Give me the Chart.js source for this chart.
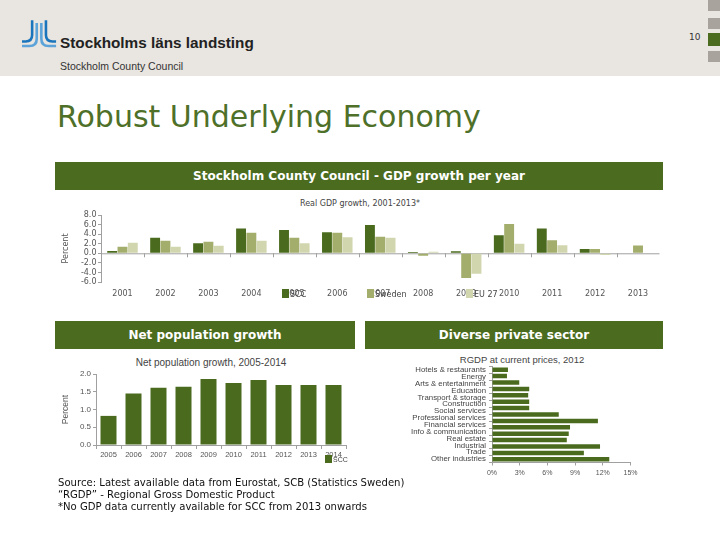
<!DOCTYPE html>
<html>
<head>
<meta charset="utf-8">
<script src="https://cdn.jsdelivr.net/npm/chart.js@4.4.1/dist/chart.umd.min.js"></script>
<style>
  body { margin: 0; width: 720px; height: 540px; position: relative; overflow: hidden; background: #fff; font-family: "DejaVu Sans", Verdana, sans-serif; }
  .abs { position: absolute; }
  #band { left: 0; top: 0; width: 720px; height: 76px; background: #e9e5e0; }
  .sq { left: 708px; width: 12px; background: #a9a39e; }
  .bar-head { background: #4b6c1f; color: #fff; font-weight: bold; font-size: 12px; text-align: center; height: 28px; line-height: 28px; }
  .lg { font-size: 8px; color: #444; white-space: nowrap; }
  .lg i { display: inline-block; width: 7px; height: 9px; vertical-align: -1px; margin-right: 1px; }
  .ctitle { font-size: 8px; color: #444; white-space: nowrap; text-align: center; }
</style>
</head>
<body>
<div id="band" class="abs"></div>
<svg class="abs" style="left:22px;top:20px" width="35" height="30" viewBox="0 0 38 32">
  <g fill="none" stroke-width="2.8">
    <path d="M11 0 V16 Q11 23 4 23 H0" stroke="#1b75bc"/>
    <path d="M16 3 V20 Q16 28 8 28 H0" stroke="#5ba3d9"/>
    <path d="M21 3 V20 Q21 28 29 28 H37" stroke="#5ba3d9"/>
    <path d="M26 0 V16 Q26 23 33 23 H37" stroke="#1b75bc"/>
  </g>
</svg>
<div class="abs" style="left:60px;top:34px;font-family:'Liberation Sans',sans-serif;font-weight:bold;font-size:15.3px;color:#222;">Stockholms läns landsting</div>
<div class="abs" style="left:60px;top:60px;font-family:'Liberation Sans',sans-serif;font-size:10.5px;color:#333;">Stockholm County Council</div>
<div class="abs sq" style="top:0;height:11px"></div>
<div class="abs sq" style="top:18px;height:11px"></div>
<div class="abs sq" style="top:33px;height:13px;background:#4b6c1f"></div>
<div class="abs sq" style="top:51px;height:11px"></div>
<div class="abs" style="left:689px;top:32px;font-size:9px;color:#333;">10</div>

<div class="abs" style="left:57px;top:99px;font-size:30px;color:#4e7028;white-space:nowrap;">Robust Underlying Economy</div>

<div class="abs bar-head" style="left:55px;top:162px;width:608px;">Stockholm County Council - GDP growth per year</div>
<div class="abs ctitle" style="left:55px;top:199px;width:610px;">Real GDP growth, 2001-2013*</div>
<canvas id="gdpChart" class="abs" style="left:55px;top:195px" width="610" height="110"></canvas>
<div class="abs lg" style="left:282px;top:289px"><i style="background:#4a6b1e"></i>SCC</div>
<div class="abs lg" style="left:367px;top:289px"><i style="background:#a3ad6c"></i>Sweden</div>
<div class="abs lg" style="left:466px;top:289px"><i style="background:#d2d6ae"></i>EU 27</div>

<div class="abs bar-head" style="left:55px;top:321px;width:300px;">Net population growth</div>
<div class="abs bar-head" style="left:365px;top:321px;width:298px;">Diverse private sector</div>

<div class="abs ctitle" style="left:111px;top:357px;width:200px;font-family:'Liberation Sans',sans-serif;font-size:10px;">Net population growth, 2005-2014</div>
<canvas id="popChart" class="abs" style="left:55px;top:355px" width="300" height="115"></canvas>
<div class="abs lg" style="left:325px;top:455px;font-family:'Liberation Sans',sans-serif;font-size:7px;"><i style="background:#4a6b1e;width:7px;height:8px"></i>SCC</div>

<div class="abs ctitle" style="left:422px;top:354px;width:200px;font-family:'Liberation Sans',sans-serif;font-size:9.5px;">RGDP at current prices, 2012</div>
<canvas id="sectorChart" class="abs" style="left:400px;top:352px" width="255" height="128"></canvas>

<div class="abs" style="left:58px;top:477px;font-size:10.1px;line-height:12px;color:#111;white-space:nowrap;">
Source: Latest available data from Eurostat, SCB (Statistics Sweden)<br>
“RGDP” - Regional Gross Domestic Product<br>
*No GDP data currently available for SCC from 2013 onwards
</div>

<script>
// GDP growth per year
const gdpYears = ["2001", "2002", "2003", "2004", "2005", "2006", "2007", "2008", "2009", "2010", "2011", "2012", "2013"];
const gdpScc = [0.5, 3.25, 2.1, 5.2, 4.85, 4.4, 5.9, 0.25, 0.4, 3.75, 5.2, 0.9, null];
const gdpSweden = [1.35, 2.6, 2.4, 4.3, 3.25, 4.3, 3.45, -0.5, -5.15, 6.1, 2.75, 0.9, 1.65];
const gdpEu = [2.2, 1.35, 1.55, 2.6, 2.1, 3.35, 3.25, 0.3, -4.3, 2.0, 1.7, -0.35, 0.1];
const gdpTicks = [-6, -4, -2, 0, 2, 4, 6, 8];

// Net population growth
const popYears = ["2005", "2006", "2007", "2008", "2009", "2010", "2011", "2012", "2013", "2014"];
const popScc = [0.82, 1.45, 1.61, 1.64, 1.86, 1.75, 1.83, 1.69, 1.69, 1.69];

// RGDP at current prices, 2012 (15 bars, 14 labels as printed)
const sectorLabels = ["Hotels & restaurants", "Energy", "Arts & entertainment", "Education", "Transport & storage",
  "Construction", "Social services", "Professional services", "Financial services", "Info & communication",
  "Real estate", "Industrial", "Trade", "Other industries"];
const sectorValues = [1.73, 1.62, 2.95, 4.03, 3.92, 4.03, 4.03, 7.23, 11.47, 8.45, 8.31, 8.1, 11.7, 9.95, 12.7];
const sectorTicks = ["0%", "3%", "6%", "9%", "12%", "15%"];

Chart.defaults.font.family = "'DejaVu Sans', Verdana, sans-serif";
Chart.defaults.color = "#444";
Chart.defaults.animation = false;
Chart.defaults.plugins.legend.display = false;
Chart.defaults.plugins.tooltip.enabled = false;

const axisGray = "#a0a0a0";

// zero line + small boundary ticks under it
const zeroLine = {
  id: "zeroLine",
  beforeDatasetsDraw(chart) {
    const { ctx, chartArea, scales } = chart;
    const y = scales.y.getPixelForValue(0);
    ctx.save();
    ctx.strokeStyle = axisGray;
    ctx.lineWidth = 1;
    ctx.beginPath();
    ctx.moveTo(chartArea.left, y + 0.5);
    ctx.lineTo(chartArea.right, y + 0.5);
    for (let i = 1; i < gdpYears.length; i++) {
      const x = Math.round((scales.x.getPixelForValue(i - 1) + scales.x.getPixelForValue(i)) / 2) + 0.5;
      ctx.moveTo(x, y);
      ctx.lineTo(x, y + 4);
    }
    ctx.stroke();
    ctx.restore();
  }
};

new Chart(document.getElementById("gdpChart"), {
  type: "bar",
  data: {
    labels: gdpYears,
    datasets: [
      { label: "SCC", data: gdpScc, backgroundColor: "#4a6b1e" },
      { label: "Sweden", data: gdpSweden, backgroundColor: "#a3ad6c" },
      { label: "EU 27", data: gdpEu, backgroundColor: "#d2d6ae" }
    ]
  },
  options: {
    responsive: false,
    layout: { padding: { top: 20, right: 5.5, left: 0, bottom: 0 } },
    datasets: { bar: { categoryPercentage: 0.72, barPercentage: 0.96 } },
    scales: {
      x: {
        grid: { display: false, drawTicks: false },
        border: { display: false },
        ticks: { font: { size: 8 }, color: "#555", padding: 7, maxRotation: 0 },
        afterFit(s) { s.height = 23; }
      },
      y: {
        min: -6, max: 8,
        afterBuildTicks(s) { s.ticks = gdpTicks.map(v => ({ value: v })); },
        ticks: { font: { size: 8 }, color: "#555", padding: 1.5, autoSkip: false, callback: v => v.toFixed(1) },
        grid: { drawOnChartArea: false, tickLength: 3, color: axisGray },
        border: { color: axisGray },
        title: { display: true, text: "Percent", font: { size: 8 }, color: "#555", padding: { top: 6, bottom: 0 } },
        afterFit(s) { s.width = 46; }
      }
    }
  },
  plugins: [zeroLine]
});

new Chart(document.getElementById("popChart"), {
  type: "bar",
  data: {
    labels: popYears,
    datasets: [{ label: "SCC", data: popScc, backgroundColor: "#4a6b1e" }]
  },
  options: {
    responsive: false,
    layout: { padding: { top: 19, right: 9, left: 0, bottom: 0 } },
    datasets: { bar: { categoryPercentage: 0.64, barPercentage: 1 } },
    scales: {
      x: {
        grid: { drawOnChartArea: false, tickLength: 4, color: axisGray },
        border: { color: axisGray },
        ticks: { font: { size: 7.5, family: "'Liberation Sans', sans-serif" }, color: "#555", padding: 1, maxRotation: 0, autoSkip: false },
        afterFit(s) { s.height = 25; }
      },
      y: {
        min: 0, max: 2,
        ticks: { stepSize: 0.5, font: { size: 8, family: "'Liberation Sans', sans-serif" }, color: "#555", padding: 2, callback: v => v.toFixed(1) },
        grid: { drawOnChartArea: false, tickLength: 3, color: axisGray },
        border: { color: axisGray },
        title: { display: true, text: "Percent", font: { size: 8.5, family: "'Liberation Sans', sans-serif" }, color: "#555", padding: { top: 6, bottom: 0 } },
        afterFit(s) { s.width = 41; }
      }
    }
  }
});

new Chart(document.getElementById("sectorChart"), {
  type: "bar",
  data: {
    datasets: [{ label: "RGDP", data: sectorValues, backgroundColor: "#4a6b1e", xAxisID: "x", yAxisID: "yBars" }]
  },
  options: {
    responsive: false,
    indexAxis: "y",
    layout: { padding: { top: 14.5, right: 24.5, left: 0, bottom: 0 } },
    datasets: { bar: { categoryPercentage: 0.7, barPercentage: 1 } },
    scales: {
      x: {
        min: 0, max: 15,
        ticks: { stepSize: 3, font: { size: 7, family: "'Liberation Sans', sans-serif" }, color: "#555", padding: 3.5,
          callback: (v, i) => sectorTicks[i] },
        grid: { drawOnChartArea: false, tickLength: 3, color: axisGray },
        border: { color: axisGray },
        afterFit(s) { s.height = 17.5; }
      },
      yBars: {
        type: "category", axis: "y", display: false, offset: true,
        labels: sectorValues.map((v, i) => String(i))
      },
      y: {
        type: "category", axis: "y", offset: true,
        labels: sectorLabels,
        ticks: { font: { size: 7.8, family: "'Liberation Sans', sans-serif" }, color: "#444", padding: 3, autoSkip: false },
        grid: { drawOnChartArea: false, tickLength: 3, color: axisGray },
        border: { color: axisGray },
        afterFit(s) { s.width = 92; }
      }
    }
  }
});
</script>
</body>
</html>
